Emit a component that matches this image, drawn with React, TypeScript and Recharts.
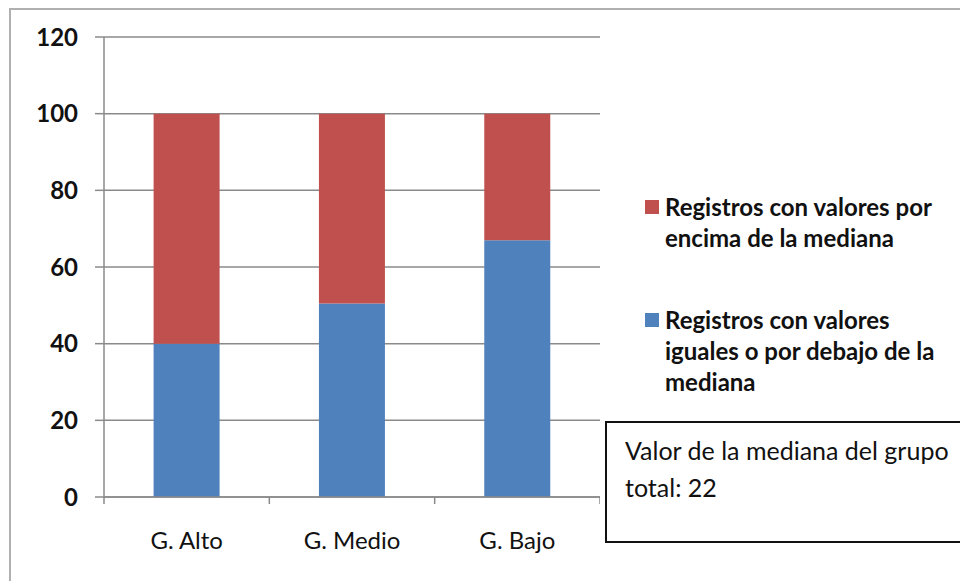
import { BarChart, Bar, XAxis, YAxis, CartesianGrid } from 'recharts';

const categories = ['G. Alto', 'G. Medio', 'G. Bajo'];
const belowMedian = [40, 50.5, 67];
const aboveMedian = [60, 49.5, 33];
const yTicks = [0, 20, 40, 60, 80, 100, 120];

const BLUE = '#4F81BD';
const RED = '#C0504D';
const GRID = '#8a8a8a';
const FONT = 'Lato, "Open Sans", sans-serif';

const CHART_W = 600;
const CHART_H = 581;
const TOP = 37;
const Y_AXIS_W = 104;
const X_AXIS_H = 84;
const PLOT_BOTTOM = CHART_H - X_AXIS_H;
const BAND = (CHART_W - Y_AXIS_W) / categories.length;

const data = categories.map((name, i) => ({
  name,
  below: belowMedian[i],
  above: aboveMedian[i],
}));

const legendItems = [
  { color: RED, label: 'Registros con valores por\nencima de la mediana' },
  { color: BLUE, label: 'Registros con valores\niguales o por debajo de la\nmediana' },
];

// ticks between the categories, like the office chart
function CategoryTick(props: any) {
  const { x, payload, index, visibleTicksCount } = props;
  const left = x - BAND / 2;
  const right = x + BAND / 2;
  return (
    <g>
      <line x1={left} x2={left} y1={PLOT_BOTTOM} y2={PLOT_BOTTOM + 7} stroke={GRID} strokeWidth={1.5} />
      {index === visibleTicksCount - 1 && (
        <line x1={right} x2={right} y1={PLOT_BOTTOM} y2={PLOT_BOTTOM + 7} stroke={GRID} strokeWidth={1.5} />
      )}
      <text x={x} y={PLOT_BOTTOM + 42} textAnchor="middle" dominantBaseline="central"
        fontSize={24} fontFamily={FONT} fill="#111">
        {payload.value}
      </text>
    </g>
  );
}

export default function App() {
  return (
    <div style={{ position: 'absolute', left: 0, top: 0, width: 960, height: 581, overflow: 'hidden', background: '#fff', fontFamily: FONT }}>
      <div style={{ position: 'absolute', left: 9, top: 8, width: 1000, height: 700, border: '2px solid #b0b0b0', boxSizing: 'border-box' }} />
      <div style={{ position: 'absolute', left: 0, top: 0 }}>
        <BarChart width={CHART_W} height={CHART_H} data={data} barCategoryGap="30%"
          margin={{ top: TOP, right: 0, left: 0, bottom: 0 }}>
          <CartesianGrid vertical={false} stroke={GRID} strokeWidth={1.5} />
          <XAxis dataKey="name" height={X_AXIS_H} axisLine={{ stroke: GRID, strokeWidth: 1.5 }} tickLine={false}
            tick={(p: any) => <CategoryTick {...p} />} interval={0} />
          <YAxis domain={[0, 120]} ticks={yTicks} width={Y_AXIS_W} interval={0}
            axisLine={{ stroke: GRID, strokeWidth: 1.5 }} tickLine={{ stroke: GRID, strokeWidth: 1.5 }}
            tickSize={9} tickMargin={17}
            tick={{ fontSize: 24, fontWeight: 700, fill: '#111', fontFamily: FONT }} />
          <Bar dataKey="below" stackId="a" fill={BLUE} isAnimationActive={false} />
          <Bar dataKey="above" stackId="a" fill={RED} isAnimationActive={false} />
        </BarChart>
      </div>

      <div style={{ position: 'absolute', left: 645, top: 191, width: 315 }}>
        {legendItems.map((item, i) => (
          <div key={i} style={{ display: 'flex', alignItems: 'flex-start', marginBottom: i === 0 ? 51 : 0 }}>
            <span style={{ width: 14, height: 14, background: item.color, marginTop: 9, marginRight: 6, flex: 'none' }} />
            <span style={{ whiteSpace: 'pre', fontSize: 24, fontWeight: 700, lineHeight: '31px', color: '#111' }}>
              {item.label}
            </span>
          </div>
        ))}
      </div>

      <div style={{ position: 'absolute', left: 605, top: 421, width: 400, height: 122, border: '2px solid #111', boxSizing: 'border-box', background: '#fff' }}>
        <div style={{ position: 'absolute', left: 18, top: 9, fontSize: 25, lineHeight: '37px', color: '#111', whiteSpace: 'pre' }}>
          {'Valor de la mediana del grupo\ntotal: 22'}
        </div>
      </div>
    </div>
  );
}
